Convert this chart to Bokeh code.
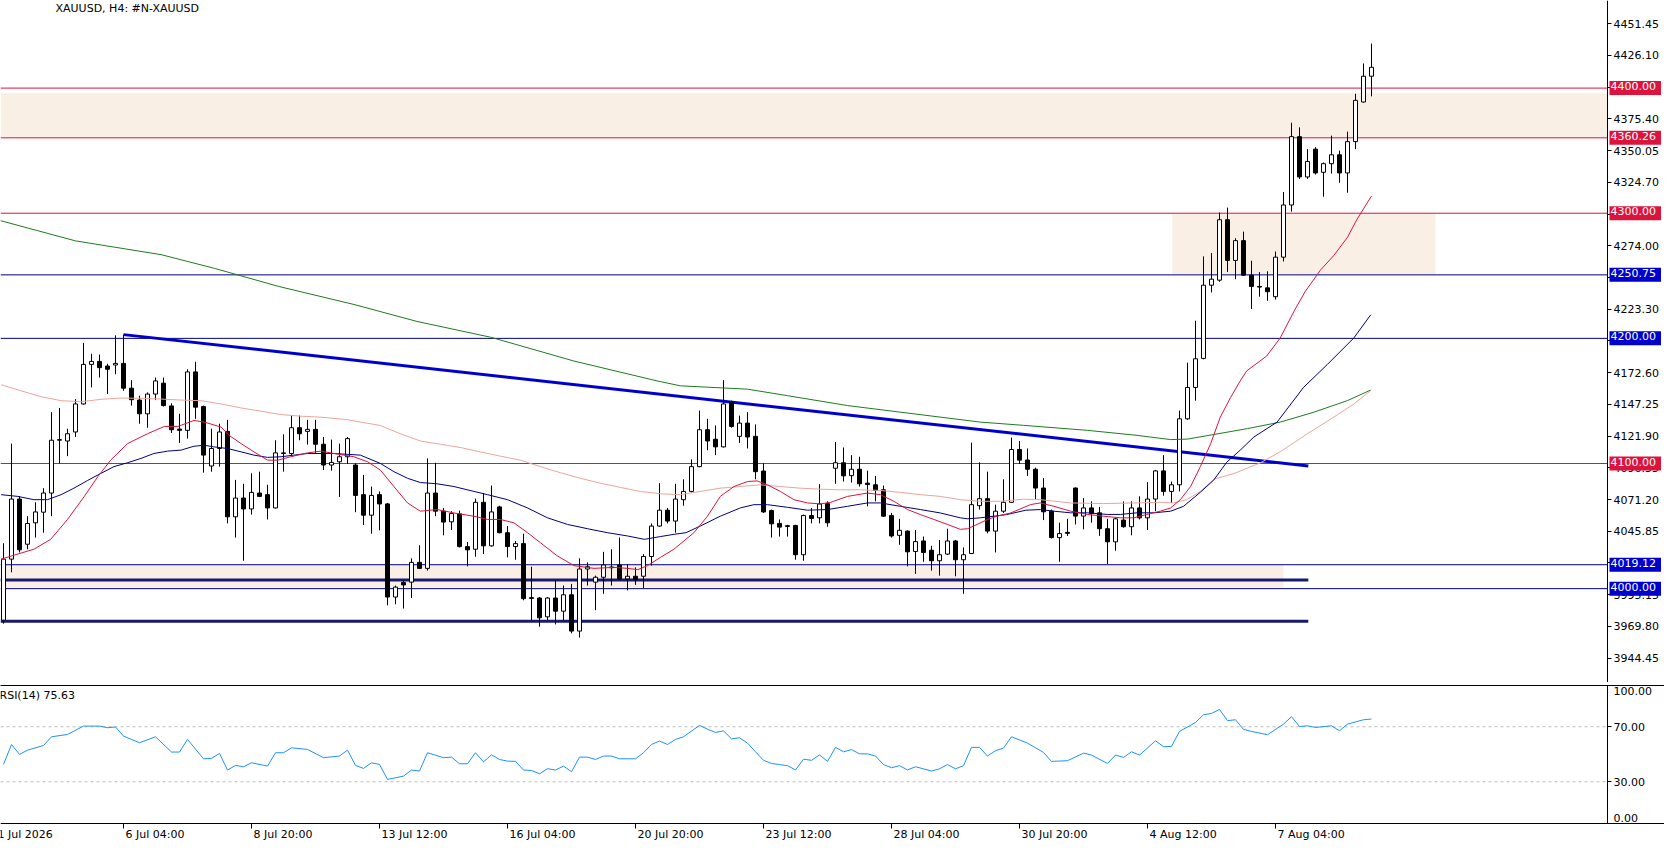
from bokeh.plotting import figure
from bokeh.models import (Range1d, FixedTicker, PrintfTickFormatter, LinearAxis,
                          BoxAnnotation, Label, ColumnDataSource)
from bokeh.layouts import column
from bokeh.embed import file_html
from bokeh.resources import INLINE

FONT = "DejaVu Sans"

# XAUUSD H4 candles (bar 0 = leftmost bar)
opens = [3974.8, 4023.6, 4071.6, 4035.5, 4052.6, 4061.1, 4076.4, 4118.6, 4118.0, 4125.2,
         4147.6, 4179.2, 4181.6, 4177.9, 4178.7, 4180.0, 4160.2, 4150.7, 4139.7, 4155.5,
         4164.2, 4146.0, 4127.5, 4126.5, 4173.2, 4145.5, 4098.0, 4112.0, 4125.7, 4057.4,
         4072.4, 4063.7, 4076.4, 4075.1, 4064.5, 4108.0, 4108.0, 4128.6, 4125.7, 4127.3,
         4115.4, 4098.8, 4101.4, 4105.4, 4098.8, 4075.1, 4058.7, 4075.1, 4067.7, 3993.3,
         4004.9, 4005.2, 4021.0, 4016.2, 4076.4, 4061.9, 4053.4, 4059.8, 4033.6, 4031.5,
         4069.0, 4034.2, 4065.3, 4044.7, 4033.6, 4036.0, 3992.8, 3992.5, 3977.5, 3992.5,
         3982.0, 3995.1, 3966.1, 4015.7, 4005.2, 4009.1, 4017.3, 4018.9, 4007.8, 4009.9,
         4009.9, 4025.7, 4050.0, 4062.7, 4054.0, 4071.1, 4077.7, 4097.5, 4127.0, 4119.4,
         4113.3, 4148.9, 4121.7, 4132.3, 4121.7, 4094.0, 4062.4, 4052.1, 4050.3, 4050.5,
         4027.1, 4058.4, 4056.6, 4067.9, 4096.2, 4100.6, 4090.3, 4095.4, 4084.3, 4083.0,
         4079.0, 4058.4, 4042.6, 4046.0, 4029.7, 4038.1, 4030.7, 4022.3, 4027.6, 4038.1,
         4023.1, 4028.1, 4066.3, 4071.9, 4046.0, 4061.9, 4069.0, 4111.2, 4102.8, 4095.4,
         4080.4, 4061.9, 4040.8, 4045.0, 4080.4, 4058.0, 4064.5, 4060.6, 4047.9, 4037.4,
         4054.8, 4049.5, 4064.5, 4056.6, 4071.6, 4094.1, 4077.7, 4083.0, 4135.7, 4160.8,
         4184.0, 4242.5, 4246.5, 4294.8, 4262.3, 4278.1, 4250.5, 4241.5, 4240.4, 4233.3,
         4264.9, 4306.6, 4361.2, 4329.0, 4351.2, 4332.7, 4339.6, 4346.7, 4332.2, 4357.2,
         4388.9, 4409.5]
highs = [4036.3, 4115.9, 4073.7, 4057.9, 4069.0, 4080.3, 4141.0, 4144.4, 4127.8, 4151.5,
         4196.4, 4187.7, 4187.1, 4179.7, 4202.4, 4203.0, 4166.6, 4154.2, 4156.8, 4168.7,
         4168.7, 4148.1, 4139.7, 4175.3, 4181.3, 4146.3, 4127.8, 4131.8, 4134.9, 4086.9,
         4083.8, 4092.2, 4093.5, 4083.0, 4118.6, 4123.3, 4138.3, 4138.3, 4134.9, 4134.9,
         4121.2, 4119.1, 4115.9, 4121.2, 4100.1, 4090.9, 4081.6, 4077.7, 4068.5, 4002.5,
         4006.5, 4024.2, 4034.7, 4104.1, 4100.6, 4064.5, 4061.9, 4062.4, 4037.3, 4071.9,
         4076.4, 4082.4, 4066.3, 4050.0, 4038.1, 4043.9, 4017.5, 3993.3, 3993.3, 4006.5,
         4002.5, 4003.8, 4024.2, 4021.0, 4010.4, 4029.4, 4031.5, 4040.8, 4019.7, 4017.0,
         4027.6, 4052.1, 4084.3, 4064.5, 4083.8, 4087.4, 4103.3, 4142.3, 4135.7, 4130.4,
         4166.6, 4150.2, 4138.3, 4141.0, 4131.2, 4100.1, 4063.2, 4055.3, 4051.0, 4051.0,
         4059.2, 4064.5, 4083.5, 4069.8, 4117.2, 4112.8, 4106.7, 4105.4, 4094.3, 4090.1,
         4082.4, 4060.5, 4055.8, 4046.6, 4046.8, 4041.6, 4034.2, 4038.9, 4047.9, 4038.9,
         4032.9, 4116.7, 4100.9, 4093.5, 4067.1, 4087.4, 4120.7, 4118.0, 4112.0, 4096.7,
         4088.3, 4063.2, 4052.7, 4055.8, 4080.9, 4072.4, 4069.8, 4065.3, 4055.8, 4056.6,
         4069.8, 4069.8, 4073.8, 4085.1, 4094.9, 4106.7, 4085.6, 4142.3, 4180.6, 4214.1,
         4265.5, 4268.1, 4300.6, 4304.5, 4280.0, 4285.3, 4262.0, 4253.0, 4253.6, 4269.4,
         4316.9, 4372.3, 4368.6, 4351.2, 4352.8, 4340.6, 4362.0, 4350.1, 4365.2, 4395.5,
         4419.7, 4435.6]
lows = [3972.0, 4013.1, 4028.9, 4031.5, 4040.8, 4044.7, 4057.9, 4100.1, 4105.9, 4121.2,
        4147.0, 4160.8, 4168.7, 4155.5, 4171.3, 4158.1, 4146.3, 4131.8, 4128.6, 4150.7,
        4145.5, 4124.4, 4116.5, 4119.9, 4135.7, 4092.7, 4093.5, 4097.5, 4052.1, 4040.8,
        4022.3, 4059.2, 4073.2, 4055.3, 4064.0, 4093.5, 4105.4, 4118.6, 4115.1, 4108.5,
        4094.8, 4094.3, 4073.2, 4099.6, 4061.1, 4050.8, 4043.9, 4046.6, 3986.7, 3987.5,
        3984.1, 3992.5, 4015.7, 4014.4, 4057.9, 4042.6, 4046.8, 4032.9, 4017.8, 4025.5,
        4027.6, 4033.6, 4044.2, 4025.0, 4023.1, 3990.7, 3974.8, 3969.6, 3974.8, 3971.4,
        3974.8, 3964.3, 3960.9, 4002.5, 3982.8, 3995.9, 4002.5, 4007.3, 3998.6, 4003.0,
        4000.4, 4018.4, 4049.5, 4052.1, 4044.7, 4066.3, 4076.9, 4097.0, 4110.6, 4106.7,
        4112.8, 4128.6, 4116.5, 4112.0, 4087.4, 4060.5, 4040.8, 4041.6, 4041.6, 4023.1,
        4022.3, 4052.1, 4052.1, 4049.5, 4083.8, 4085.6, 4084.8, 4081.6, 4065.8, 4069.8,
        4057.4, 4040.8, 4035.0, 4017.8, 4011.8, 4021.5, 4014.4, 4010.4, 4026.8, 4009.9,
        3995.9, 4027.6, 4063.2, 4044.2, 4028.9, 4060.5, 4068.5, 4099.6, 4090.1, 4071.6,
        4054.8, 4040.0, 4021.5, 4042.1, 4051.3, 4047.4, 4052.7, 4042.1, 4019.7, 4030.3,
        4048.7, 4042.6, 4055.3, 4046.9, 4061.9, 4074.3, 4068.5, 4077.7, 4134.9, 4150.2,
        4183.2, 4236.7, 4245.2, 4253.1, 4247.3, 4249.9, 4223.5, 4233.3, 4230.0, 4231.0,
        4261.5, 4301.3, 4327.4, 4327.4, 4330.9, 4313.2, 4331.7, 4324.3, 4316.4, 4351.2,
        4388.4, 4393.4]
closes = [4023.6, 4071.6, 4031.0, 4052.1, 4061.3, 4076.4, 4118.6, 4119.1, 4123.8, 4147.6,
          4179.2, 4181.6, 4176.6, 4175.3, 4180.0, 4160.2, 4151.0, 4139.7, 4155.5, 4166.0,
          4146.3, 4127.0, 4126.5, 4173.2, 4145.0, 4106.7, 4112.0, 4125.2, 4057.4, 4072.4,
          4063.7, 4076.9, 4073.7, 4064.5, 4108.5, 4108.5, 4128.6, 4123.8, 4127.3, 4115.4,
          4098.8, 4100.9, 4105.4, 4119.9, 4074.5, 4058.7, 4074.5, 4067.7, 3993.3, 4001.2,
          4003.0, 4021.0, 4016.2, 4076.4, 4061.9, 4053.2, 4060.0, 4033.6, 4031.0, 4069.0,
          4034.2, 4061.3, 4044.7, 4033.6, 4036.0, 3992.0, 3992.2, 3976.7, 3992.5, 3982.0,
          3995.1, 3966.1, 4015.7, 4017.5, 4009.1, 4018.9, 4016.7, 4007.8, 4009.9, 4007.3,
          4025.7, 4050.0, 4062.7, 4054.0, 4071.6, 4077.7, 4097.5, 4127.0, 4118.0, 4113.3,
          4147.6, 4129.6, 4132.3, 4121.2, 4093.5, 4061.3, 4051.8, 4049.2, 4049.7, 4027.1,
          4058.4, 4056.1, 4067.7, 4052.6, 4100.6, 4090.1, 4095.4, 4083.8, 4083.2, 4078.5,
          4057.9, 4042.1, 4046.6, 4029.4, 4037.6, 4028.9, 4022.3, 4027.1, 4038.1, 4023.1,
          4027.1, 4067.1, 4071.9, 4046.0, 4061.9, 4069.0, 4111.2, 4102.7, 4095.4, 4080.4,
          4061.4, 4040.8, 4044.0, 4044.2, 4058.0, 4064.5, 4060.1, 4047.9, 4037.4, 4055.8,
          4049.5, 4064.5, 4056.6, 4071.6, 4094.1, 4077.7, 4083.0, 4135.7, 4160.8, 4183.7,
          4242.5, 4247.3, 4294.8, 4262.3, 4278.1, 4250.5, 4241.5, 4241.0, 4237.3, 4264.9,
          4306.6, 4361.2, 4329.0, 4341.4, 4332.2, 4339.6, 4346.7, 4332.2, 4357.2, 4390.2,
          4409.5, 4416.6]

# moving averages as (bar, price) points
ma_red = [(-0.3, 4023.6), (3.8, 4031.5), (5.9, 4039.4), (8.0, 4055.3), (10.1, 4073.7),
          (11.8, 4089.6), (13.4, 4102.7), (15.5, 4115.9), (18.0, 4123.8), (20.1, 4129.6),
          (21.8, 4129.6), (23.8, 4134.4), (25.1, 4133.1), (27.2, 4129.1), (28.2, 4122.5),
          (29.7, 4115.9), (31.3, 4109.3), (33.0, 4102.7), (34.3, 4102.7), (35.9, 4105.4),
          (38.0, 4108.5), (39.7, 4109.9), (41.3, 4108.0), (43.8, 4105.4), (45.5, 4101.4),
          (47.1, 4094.8), (48.8, 4081.6), (50.5, 4068.5), (52.1, 4061.9), (54.2, 4063.2),
          (56.3, 4060.5), (58.8, 4057.9), (60.5, 4055.3), (62.1, 4055.3), (63.8, 4052.6),
          (65.5, 4044.7), (67.1, 4036.8), (69.2, 4026.3), (71.3, 4018.4), (73.8, 4016.2),
          (76.3, 4017.0), (78.0, 4016.2), (79.3, 4015.2), (80.5, 4018.4), (82.1, 4024.9),
          (83.8, 4031.5), (86.3, 4044.7), (88.0, 4057.9), (89.6, 4073.7), (91.3, 4081.6),
          (93.0, 4085.6), (94.2, 4086.1), (95.5, 4083.0), (97.1, 4077.7), (98.8, 4071.1),
          (100.5, 4068.5), (102.1, 4067.7), (103.4, 4069.0), (105.5, 4073.7), (108.0, 4076.4),
          (109.6, 4075.1), (111.3, 4069.8), (113.0, 4063.2), (114.6, 4059.2), (116.3, 4055.3),
          (118.0, 4051.3), (119.6, 4047.4), (120.5, 4047.9), (121.7, 4051.3), (123.0, 4055.3),
          (124.2, 4057.9), (125.9, 4060.5), (128.4, 4067.2), (129.6, 4068.5), (131.3, 4065.8),
          (133.4, 4061.9), (135.5, 4059.3), (137.5, 4057.9), (139.6, 4056.6), (141.3, 4056.6),
          (142.9, 4059.3), (144.6, 4061.9), (145.9, 4064.5), (147.1, 4071.1), (148.4, 4081.7),
          (149.6, 4097.5), (150.9, 4115.9), (152.1, 4137.1), (153.4, 4152.9), (154.6, 4166.1),
          (155.4, 4174.0), (157.9, 4185.9), (159.6, 4200.4), (161.3, 4221.5), (162.7, 4237.3),
          (164.6, 4254.4), (166.3, 4266.3), (168.0, 4280.8), (169.2, 4295.3), (171.0, 4313.7)]
ma_navy = [(-0.3, 4075.1), (1.8, 4073.7), (3.8, 4071.1), (5.5, 4071.1), (7.2, 4075.1),
           (8.8, 4080.3), (10.5, 4086.4), (12.2, 4092.2), (13.8, 4097.5), (15.5, 4100.6),
           (17.2, 4104.1), (18.8, 4108.0), (20.5, 4109.9), (22.2, 4110.7), (23.8, 4113.8),
           (25.1, 4114.6), (26.3, 4113.3), (28.0, 4112.0), (29.7, 4109.3), (31.3, 4106.7),
           (33.0, 4104.9), (34.7, 4105.4), (36.3, 4106.7), (38.0, 4108.0), (41.3, 4108.0),
           (44.6, 4106.7), (47.1, 4100.1), (48.8, 4093.5), (50.5, 4088.2), (52.1, 4084.8),
           (54.2, 4083.8), (56.3, 4081.6), (58.8, 4077.7), (60.5, 4075.1), (63.0, 4071.1),
           (65.5, 4064.5), (68.0, 4056.6), (70.5, 4051.3), (73.0, 4047.9), (75.5, 4044.7),
           (78.0, 4042.1), (80.1, 4039.4), (82.1, 4041.6), (83.8, 4043.4), (85.3, 4044.7),
           (87.1, 4050.0), (89.6, 4057.9), (92.1, 4064.5), (93.8, 4067.1), (95.5, 4067.1),
           (98.0, 4065.0), (100.5, 4062.7), (103.0, 4063.2), (105.5, 4065.8), (108.0, 4068.5),
           (109.6, 4068.5), (112.1, 4065.8), (114.6, 4063.2), (117.1, 4060.5), (119.6, 4056.6),
           (120.5, 4055.8), (122.1, 4056.6), (123.8, 4057.9), (125.4, 4059.2), (127.8, 4062.7),
           (129.6, 4063.2), (131.3, 4061.9), (133.4, 4060.6), (135.5, 4060.6), (138.0, 4059.3),
           (139.6, 4059.3), (141.7, 4060.6), (143.8, 4060.6), (145.9, 4061.9), (147.5, 4065.8),
           (149.6, 4077.0), (151.3, 4086.9), (152.9, 4101.0), (154.6, 4110.7), (156.3, 4121.2),
           (159.2, 4133.1), (162.5, 4160.8), (165.5, 4179.3), (168.8, 4200.4), (170.9, 4218.8)]
ma_salmon = [(-0.3, 4162.9), (2.2, 4158.1), (4.7, 4153.4), (7.2, 4150.2), (9.7, 4149.4),
             (12.2, 4151.3), (14.7, 4152.3), (17.2, 4152.1), (19.7, 4151.5), (22.2, 4150.7),
             (24.7, 4150.2), (27.2, 4147.6), (29.7, 4144.4), (32.2, 4141.8), (34.7, 4139.1),
             (37.2, 4137.8), (39.7, 4137.0), (42.8, 4135.2), (44.6, 4133.1), (47.1, 4130.4),
             (49.6, 4123.8), (52.1, 4118.0), (54.6, 4115.4), (57.1, 4112.8), (59.6, 4109.3),
             (62.1, 4105.9), (64.6, 4102.7), (67.1, 4097.5), (69.6, 4092.7), (72.1, 4088.2),
             (74.6, 4084.3), (77.1, 4080.9), (79.6, 4077.7), (82.1, 4075.8), (84.6, 4075.1),
             (87.1, 4077.7), (89.6, 4080.3), (92.1, 4081.6), (94.6, 4083.0), (97.1, 4081.6),
             (99.6, 4080.3), (102.1, 4079.5), (104.6, 4079.0), (107.1, 4079.0), (109.6, 4078.5),
             (112.1, 4076.9), (114.6, 4075.1), (117.1, 4073.7), (119.6, 4071.1), (122.1, 4069.8),
             (124.6, 4069.8), (127.5, 4071.5), (129.6, 4071.1), (133.4, 4068.5), (137.5, 4068.0),
             (141.7, 4068.5), (144.6, 4069.0), (146.3, 4068.5), (147.9, 4071.1), (149.6, 4077.7),
             (151.3, 4087.5), (153.8, 4092.0), (157.1, 4100.5), (159.6, 4109.4), (163.0, 4123.9),
             (166.3, 4137.1), (168.8, 4147.6), (170.9, 4158.2)]
ma_green = [(-0.4, 4294.1), (9.0, 4277.9), (19.7, 4266.9), (26.4, 4255.9), (34.4, 4241.5),
            (43.8, 4227.1), (51.7, 4213.5), (60.9, 4200.9), (71.3, 4181.9), (81.7, 4166.0),
            (84.6, 4162.1), (93.0, 4159.4), (98.0, 4154.2), (105.5, 4146.3), (113.8, 4139.7),
            (122.1, 4133.1), (127.5, 4130.5), (135.5, 4126.5), (141.7, 4122.5), (145.9, 4119.1),
            (148.0, 4119.5), (151.3, 4123.2), (155.5, 4127.9), (159.6, 4133.1), (163.8, 4141.0),
            (168.0, 4150.3), (170.9, 4158.7)]

# RSI(14) as (bar, value) points
rsi_pts = [(0, 42.6), (1, 57.1), (2, 49.9), (3, 53.0), (5, 56.4), (6, 62.7), (8, 64.4),
           (10, 70.5), (12, 70.5), (13, 69.3), (14, 69.8), (15, 63.2), (17, 58.4), (19, 62.7),
           (21, 51.6), (22, 51.6), (23, 60.8), (25, 46.7), (26, 47.0), (27, 50.6), (28, 38.5),
           (29, 41.9), (30, 40.9), (31, 43.8), (33, 41.4), (34, 51.1), (35, 51.1), (36, 54.7),
           (38, 53.5), (40, 47.5), (42, 48.7), (43, 53.0), (44, 41.9), (45, 39.7), (46, 43.8),
           (47, 42.6), (48, 31.7), (50, 34.1), (51, 38.5), (52, 37.8), (53, 51.1), (55, 47.5),
           (56, 47.9), (57, 43.1), (58, 43.1), (59, 51.1), (60, 44.5), (61, 49.6), (62, 46.2),
           (63, 45.0), (64, 44.8), (65, 38.5), (66, 38.2), (67, 35.8), (68, 39.5), (69, 38.5),
           (70, 41.4), (71, 37.3), (72, 47.9), (73, 47.9), (74, 46.2), (75, 48.7), (76, 48.7),
           (77, 46.7), (79, 46.7), (80, 51.1), (81, 57.1), (82, 59.6), (83, 57.1), (84, 60.8),
           (85, 62.7), (87, 71.0), (88, 68.2), (89, 65.9), (90, 67.0), (91, 61.2), (92, 62.0),
           (93, 58.1), (94, 51.8), (95, 45.6), (96, 43.3), (97, 42.5), (98, 41.7), (99, 38.6),
           (100, 46.4), (101, 45.6), (102, 49.5), (103, 44.8), (104, 55.0), (105, 51.8),
           (106, 53.4), (107, 50.3), (108, 50.3), (109, 48.7), (110, 42.5), (111, 40.2),
           (112, 41.7), (113, 38.6), (114, 40.9), (115, 39.4), (116, 37.8), (117, 39.4),
           (118, 42.5), (119, 39.4), (120, 41.7), (121, 55.0), (122, 55.0), (123, 48.7),
           (124, 52.6), (125, 54.5), (126, 62.7), (128, 58.1), (130, 51.3), (131, 44.8),
           (133, 45.3), (135, 50.8), (136, 49.4), (138, 43.3), (139, 49.4), (140, 47.7),
           (141, 51.8), (142, 49.4), (144, 59.8), (145, 55.5), (146, 55.7), (147, 66.6),
           (149, 73.1), (150, 78.7), (151, 79.7), (152, 82.6), (153, 74.4), (154, 75.1),
           (155, 68.1), (156, 66.6), (158, 64.2), (160, 71.9), (161, 77.3), (162, 70.2),
           (163, 70.7), (164, 69.5), (166, 70.7), (167, 67.1), (168, 71.9), (170, 75.1),
           (171, 75.63)]
rsi_levels = [70, 30]
rsi_top, rsi_bottom = 100, 0

# drawn objects
red_levels = [4400.00, 4360.26, 4300.00, 4100.00]
blue_levels = [4250.75, 4200.00, 4019.12, 4000.00]
zone_top = (4360.26, 4396.0)
zone_mid = (4251.0, 4300.0, 146.1, 179.0)     # bottom, top, first bar, last bar
zone_low = (4001.0, 4019.12, 160.0)           # bottom, top, last bar
support_lines = [4007.0, 3974.0]
support_end = 163.1
trend_bars = [15.0, 163.1]
trend_prices = [4203.0, 4098.0]

price_ticks = [3944.45, 3969.80, 3995.15, 4020.50, 4045.85, 4071.20, 4096.55, 4121.90,
               4147.25, 4172.60, 4197.95, 4223.30, 4248.65, 4274.00, 4299.35, 4324.70,
               4350.05, 4375.40, 4400.75, 4426.10, 4451.45]
time_ticks = [-1, 15, 31, 47, 63, 79, 95, 111, 127, 143, 159]
time_labels = ["1 Jul 2026", "6 Jul 04:00", "8 Jul 20:00", "13 Jul 12:00", "16 Jul 04:00",
               "20 Jul 20:00", "23 Jul 12:00", "28 Jul 04:00", "30 Jul 20:00",
               "4 Aug 12:00", "7 Aug 04:00"]

RED = "#DC143C"
BLUE = "#0000CD"
NAVY = "#000080"
SHADE = "#FAEFE5"

# 8 px per bar; the price scale sits at bar AXIS_K, its labels to the right of it
x_rng = Range1d(-0.375, 207.625)
AXIS_K = 200.5
Y_LO, Y_HI = 3925.0, 4470.0


def scale_axis(ticks, bounds=None):
    ax = LinearAxis(fixed_location=AXIS_K, ticker=FixedTicker(ticks=ticks),
                    formatter=PrintfTickFormatter(format="%.2f"))
    if bounds is not None:
        ax.bounds = bounds
    ax.major_tick_out = 4
    ax.major_tick_in = 0
    ax.minor_tick_out = 0
    ax.minor_tick_in = 0
    ax.major_label_standoff = 2
    ax.major_label_text_font = FONT
    ax.major_label_text_font_size = "11px"
    ax.major_label_text_color = "black"
    ax.axis_line_color = "black"
    return ax


def border_axis():
    ax = LinearAxis(ticker=FixedTicker(ticks=[]))
    ax.major_tick_line_color = None
    ax.minor_tick_line_color = None
    ax.major_tick_out = 0
    ax.minor_tick_out = 0
    ax.major_label_standoff = 0
    ax.axis_line_color = "black"
    return ax


def text(x, y, s, **kw):
    return Label(x=x, y=y, text=s, text_font=FONT, text_font_size="11px",
                 text_align="left", **kw)


# ---------------- price panel ----------------
p = figure(width=1664, height=682, x_range=x_rng, y_range=Range1d(Y_LO, Y_HI),
           output_backend="svg", toolbar_location=None,
           x_axis_location=None, y_axis_location=None,
           min_border_left=0, min_border_right=0, min_border_top=0, min_border_bottom=0,
           outline_line_color=None, background_fill_color="white")
p.grid.visible = False
p.add_layout(border_axis(), "below")
p.add_layout(scale_axis(price_ticks), "right")

p.add_layout(BoxAnnotation(bottom=zone_top[0], top=zone_top[1], right=AXIS_K,
                           fill_color=SHADE, fill_alpha=1, line_color=None, level="underlay"))
p.add_layout(BoxAnnotation(bottom=zone_mid[0], top=zone_mid[1], left=zone_mid[2],
                           right=zone_mid[3], fill_color=SHADE, fill_alpha=1,
                           line_color=None, level="underlay"))
p.add_layout(BoxAnnotation(bottom=zone_low[0], top=zone_low[1], right=zone_low[2],
                           fill_color=SHADE, fill_alpha=1, line_color=None, level="underlay"))

levels = red_levels + blue_levels
p.segment(x0=[x_rng.start] * len(levels), y0=levels, x1=[AXIS_K] * len(levels), y1=levels,
          line_color=[RED] * len(red_levels) + [NAVY] * len(blue_levels), line_width=1)
p.segment(x0=[x_rng.start] * len(support_lines), y0=support_lines,
          x1=[support_end] * len(support_lines), y1=support_lines,
          line_color="#191970", line_width=3)
p.line(trend_bars, trend_prices, line_color=BLUE, line_width=3)

bars = list(range(len(closes)))
up = [i for i in bars if closes[i] >= opens[i]]
dn = [i for i in bars if closes[i] < opens[i]]
p.segment(x0=bars, y0=lows, x1=bars, y1=highs, line_color="black", line_width=1)
src_up = ColumnDataSource(dict(x=up, b=[opens[i] for i in up], t=[closes[i] for i in up]))
src_dn = ColumnDataSource(dict(x=dn, b=[closes[i] for i in dn], t=[opens[i] for i in dn]))
p.vbar(x="x", bottom="b", top="t", width=0.5, source=src_up, fill_color="white",
       line_color="black", line_width=1)
p.vbar(x="x", bottom="b", top="t", width=0.5, source=src_dn, fill_color="black",
       line_color="black", line_width=1)

for pts, col in [(ma_green, "#1E7B1E"), (ma_salmon, "#EBA59C"), (ma_navy, NAVY), (ma_red, RED)]:
    p.line([a for a, b in pts], [b for a, b in pts], line_color=col, line_width=1)

for lv in levels:
    p.add_layout(text(AXIS_K, lv, "%.2f" % lv, x_offset=2, text_color="white",
                      text_baseline="middle",
                      background_fill_color=RED if lv in red_levels else BLUE,
                      padding=(1, 5, 1, 5)))

p.add_layout(text(x_rng.start, Y_HI, "XAUUSD, H4:  #N-XAUUSD", x_offset=55, y_offset=-1,
                  text_color="black", text_baseline="top"))

# ---------------- RSI panel ----------------
r = figure(width=1664, height=161, x_range=x_rng, y_range=Range1d(-14.9, 100),
           output_backend="svg", toolbar_location=None,
           x_axis_location=None, y_axis_location=None,
           min_border_left=0, min_border_right=0, min_border_top=3, min_border_bottom=0,
           outline_line_color=None, background_fill_color="white")
r.grid.visible = False
r.add_layout(border_axis(), "above")
r.add_layout(scale_axis(rsi_levels, bounds=(rsi_bottom, rsi_top)), "right")

time_ax = LinearAxis(fixed_location=rsi_bottom, ticker=FixedTicker(ticks=time_ticks))
time_ax.major_tick_out = 5
time_ax.major_tick_in = 0
time_ax.minor_tick_line_color = None
time_ax.major_label_text_color = None
time_ax.axis_line_color = "black"
r.add_layout(time_ax, "below")

r.segment(x0=[x_rng.start] * len(rsi_levels), y0=rsi_levels,
          x1=[AXIS_K] * len(rsi_levels), y1=rsi_levels,
          line_color="#BDBDBD", line_dash="3 3", line_width=1)
r.line([a for a, b in rsi_pts], [b for a, b in rsi_pts], line_color="#1E90FF", line_width=1)

# scale end labels sit inside the panel, as in the terminal
r.add_layout(text(AXIS_K, rsi_top, "%.2f" % rsi_top, x_offset=6, y_offset=-1,
                  text_color="black", text_baseline="top"))
r.add_layout(text(AXIS_K, rsi_bottom, "%.2f" % rsi_bottom, x_offset=6, y_offset=1,
                  text_color="black", text_baseline="bottom"))
r.add_layout(text(x_rng.start, rsi_top, "RSI(14) 75.63", x_offset=-1, y_offset=-3,
                  text_color="black", text_baseline="top"))
for k, t in zip(time_ticks, time_labels):
    r.add_layout(text(k, rsi_bottom, t, x_offset=2, y_offset=-5, text_color="black",
                      text_baseline="top"))

layout = column(p, r)
open("out.html", "w").write(file_html(layout, INLINE))
